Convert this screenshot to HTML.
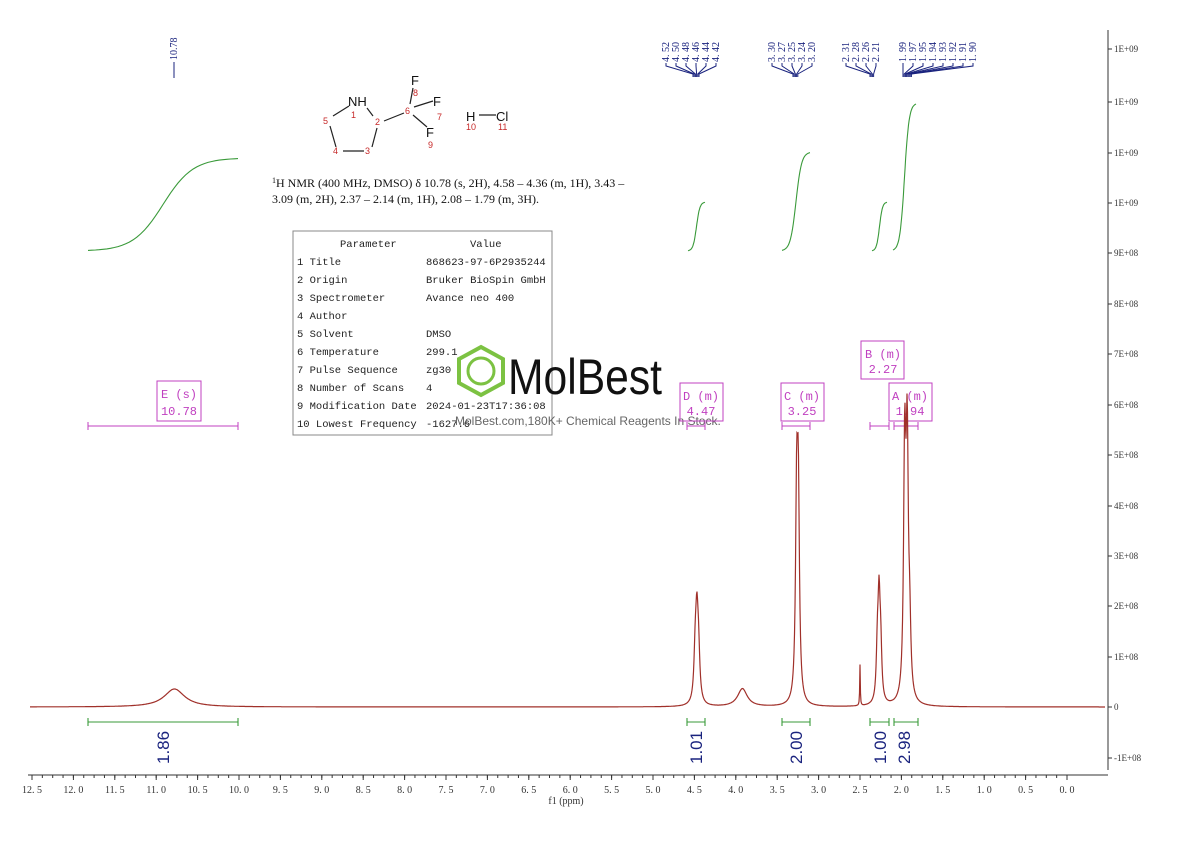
<!DOCTYPE html>
<html><head><meta charset="utf-8"><style>
body{margin:0;background:#fff;}
svg{display:block;font-family:"Liberation Serif",serif;}
</style></head><body>
<svg id="s" width="1190" height="841" viewBox="0 0 1190 841" xmlns="http://www.w3.org/2000/svg">
<rect width="1190" height="841" fill="#fff"/>
<line x1="1108" y1="30" x2="1108" y2="770" stroke="#333" stroke-width="1"/>
<g id="yax" font-size="9" fill="#333"></g>
<line x1="28" y1="775" x2="1108" y2="775" stroke="#333"/>
<g id="xax" font-size="10" fill="#333"></g>
<text x="566" y="804" font-size="10" text-anchor="middle" fill="#333">f1 (ppm)</text>

<line x1="174" y1="78" x2="174" y2="62" stroke="#1a237e"/>
<text transform="translate(177,60) rotate(-90)" font-size="10" fill="#1a237e">10.78</text>
<g id="tops" font-size="10" fill="#1a237e"></g>

<g stroke="#222" stroke-width="1.2" fill="none">
<line x1="349" y1="106" x2="333" y2="116"/><line x1="330" y1="126" x2="336" y2="147"/>
<line x1="343" y1="151" x2="364" y2="151"/><line x1="372" y1="147" x2="377" y2="128"/>
<line x1="373" y1="116" x2="367" y2="108"/><line x1="384" y1="121" x2="404" y2="113"/>
<line x1="410" y1="104" x2="413" y2="88"/><line x1="414" y1="107" x2="433" y2="101"/>
<line x1="413" y1="115" x2="427" y2="127"/><line x1="479" y1="115" x2="496" y2="115"/>
</g>
<g font-family="Liberation Sans,sans-serif" font-size="13" fill="#111">
<text x="348" y="106">NH</text><text x="411" y="85">F</text><text x="433" y="106">F</text>
<text x="426" y="137">F</text><text x="466" y="121">H</text><text x="496" y="121">Cl</text>
</g>
<g font-family="Liberation Sans,sans-serif" font-size="9" fill="#c62828">
<text x="351" y="118">1</text><text x="323" y="124">5</text><text x="375" y="125">2</text>
<text x="405" y="114">6</text><text x="413" y="96">8</text><text x="437" y="120">7</text>
<text x="428" y="148">9</text><text x="333" y="154">4</text><text x="365" y="154">3</text>
<text x="466" y="130">10</text><text x="498" y="130">11</text>
</g>
<text x="272" y="187" font-size="12" fill="#111"><tspan font-size="8" dy="-4">1</tspan><tspan dy="4">H NMR (400 MHz, DMSO) δ 10.78 (s, 2H), 4.58 – 4.36 (m, 1H), 3.43 –</tspan></text>
<text x="272" y="203" font-size="12" fill="#111">3.09 (m, 2H), 2.37 – 2.14 (m, 1H), 2.08 – 1.79 (m, 3H).</text>

<rect x="293" y="231" width="259" height="204" fill="#fff" stroke="#888"/>
<g font-family="Liberation Mono,monospace" font-size="10.5" fill="#222">
<text x="340" y="247">Parameter</text><text x="470" y="247">Value</text>
<text x="297" y="265">1 Title</text><text x="426" y="265">868623-97-6P2935244</text>
<text x="297" y="283">2 Origin</text><text x="426" y="283">Bruker BioSpin GmbH</text>
<text x="297" y="301">3 Spectrometer</text><text x="426" y="301">Avance neo 400</text>
<text x="297" y="319">4 Author</text>
<text x="297" y="337">5 Solvent</text><text x="426" y="337">DMSO</text>
<text x="297" y="355">6 Temperature</text><text x="426" y="355">299.1</text>
<text x="297" y="373">7 Pulse Sequence</text><text x="426" y="373">zg30</text>
<text x="297" y="391">8 Number of Scans</text><text x="426" y="391">4</text>
<text x="297" y="409">9 Modification Date</text><text x="426" y="409">2024-01-23T17:36:08</text>
<text x="297" y="427">10 Lowest Frequency</text><text x="426" y="427">-1627.6</text>
</g>
<polygon points="481,347 503,359 503,383 481,395 459,383 459,359" fill="none" stroke="#7cc242" stroke-width="4"/>
<circle cx="481" cy="371" r="13" fill="none" stroke="#7cc242" stroke-width="3"/>
<text x="508" y="394" font-family="Liberation Sans,sans-serif" font-size="50" fill="#111" textLength="154" lengthAdjust="spacingAndGlyphs">MolBest</text>
<text x="455" y="425" font-family="Liberation Sans,sans-serif" font-size="12" fill="#666">MolBest.com,180K+ Chemical Reagents In Stock.</text>

<g stroke="#c040c0" fill="none" stroke-width="1">
<rect x="157" y="381" width="44" height="40"/><rect x="680" y="383" width="43" height="38"/>
<rect x="781" y="383" width="43" height="38"/><rect x="861" y="341" width="43" height="38"/>
<rect x="889" y="383" width="43" height="38"/>
<path d="M88 426H238M88 422V430M238 422V430"/>
<path d="M687 426H705M687 422V430M705 422V430"/>
<path d="M782 426H810M782 422V430M810 422V430"/>
<path d="M870 426H889M870 422V430M889 422V430"/>
<path d="M894 426H918M894 422V430M918 422V430"/>
</g>
<g font-family="Liberation Mono,monospace" font-size="12" fill="#c040c0" text-anchor="middle">
<text x="179" y="398">E (s)</text><text x="179" y="415">10.78</text>
<text x="701" y="400">D (m)</text><text x="701" y="415">4.47</text>
<text x="802" y="400">C (m)</text><text x="802" y="415">3.25</text>
<text x="883" y="358">B (m)</text><text x="883" y="373">2.27</text>
<text x="910" y="400">A (m)</text><text x="910" y="415">1.94</text>
</g>

<g stroke="#3a9a3a" fill="none" stroke-width="1.1">
<path d="M88 722H238M88 718V726M238 718V726"/>
<path d="M687 722H705M687 718V726M705 718V726"/>
<path d="M782 722H810M782 718V726M810 718V726"/>
<path d="M870 722H889M870 718V726M889 718V726"/>
<path d="M894 722H918M894 718V726M918 718V726"/>
</g>
<g id="ints" stroke="#3a9a3a" fill="none" stroke-width="1.1"></g>
<g font-family="Liberation Sans,sans-serif" font-size="17" fill="#1a237e">
<text transform="translate(169,764) rotate(-90)">1.86</text>
<text transform="translate(702,764) rotate(-90)">1.01</text>
<text transform="translate(802,764) rotate(-90)">2.00</text>
<text transform="translate(886,764) rotate(-90)">1.00</text>
<text transform="translate(910,764) rotate(-90)">2.98</text>
</g>
<path id="spec" fill="none" stroke="#a0302a" stroke-width="1.2"/>
</svg>
<script>
var ns="http://www.w3.org/2000/svg";
function X(p){return 32+(12.5-p)*82.8;}
function el(t,a,p,txt){var e=document.createElementNS(ns,t);for(var k in a)e.setAttribute(k,a[k]);if(txt!=null)e.textContent=txt;p.appendChild(e);return e;}
var ya=document.getElementById('yax');
var labs=[[49,'1E+09'],[102,'1E+09'],[153,'1E+09'],[203,'1E+09'],[253,'9E+08'],[304,'8E+08'],[354,'7E+08'],[405,'6E+08'],[455,'5E+08'],[506,'4E+08'],[556,'3E+08'],[606,'2E+08'],[657,'1E+08'],[707,'0'],[758,'-1E+08']];
labs.forEach(function(l){el('line',{x1:1108,x2:1112,y1:l[0],y2:l[0],stroke:'#333'},ya);el('text',{x:1114,y:l[0]+3},ya,l[1]);});
var xa=document.getElementById('xax');
for(var i=0;i<=25;i++){var p=12.5-i*0.5;var x=X(p);el('line',{x1:x,x2:x,y1:775,y2:780,stroke:'#333'},xa);el('text',{x:x,y:793,'text-anchor':'middle'},xa,p.toFixed(1).replace('.','. '));}
for(var i=0;i<100;i++){var x=X(12.5-i*0.125);if(x>1100)break;el('line',{x1:x,x2:x,y1:775,y2:778,stroke:'#333'},xa);}
var tops=document.getElementById('tops');
function grp(vals,x0,dx,target){vals.forEach(function(v,i){var x=x0+i*dx;el('text',{transform:'translate('+(x+3)+',62) rotate(-90)'},tops,v.toFixed(2).replace('.','. '));
var tx=target+i*1.2;el('path',{d:'M'+x+' 63V66L'+tx+' 74V77',stroke:'#1a237e',fill:'none'},tops);});}
grp([4.52,4.50,4.48,4.46,4.44,4.42],666,10,693);
grp([3.30,3.27,3.25,3.24,3.20],772,10,793);
grp([2.31,2.28,2.26,2.21],846,10,870);
grp([1.99,1.97,1.95,1.94,1.93,1.92,1.91,1.90],903,10,903);
var pk=[[10.78,18,0.15],[4.49,45,0.018],[4.47,75,0.018],[4.45,45,0.018],[3.92,18,0.07],[3.265,190,0.016],[3.245,190,0.016],[2.50,41,0.004],[2.29,50,0.015],[2.27,95,0.015],[2.25,50,0.015],[1.96,245,0.016],[1.93,245,0.016],[1.90,60,0.016]];
var d='';for(var x=30;x<=1105;x+=0.5){var p=12.5-(x-32)/82.8;var h=0;pk.forEach(function(k){var t=(p-k[0])/k[2];h+=k[1]/(1+t*t);});d+=(x==30?'M':'L')+x+' '+(707-h).toFixed(1);}
document.getElementById('spec').setAttribute('d',d);
var ig=document.getElementById('ints');
[[88,238,251,158],[688,705,251,202],[782,810,251,152],[872,887,251,202],[893,916,251,103]].forEach(function(a){var s='';for(var i=0;i<=40;i++){var f=i/40;var x=a[0]+(a[1]-a[0])*f;var g=1/(1+Math.exp(-(f-0.5)*10));s+=(i?'L':'M')+x.toFixed(1)+' '+(a[2]+(a[3]-a[2])*g).toFixed(1);}el('path',{d:s},ig);});
</script>
</body></html>
